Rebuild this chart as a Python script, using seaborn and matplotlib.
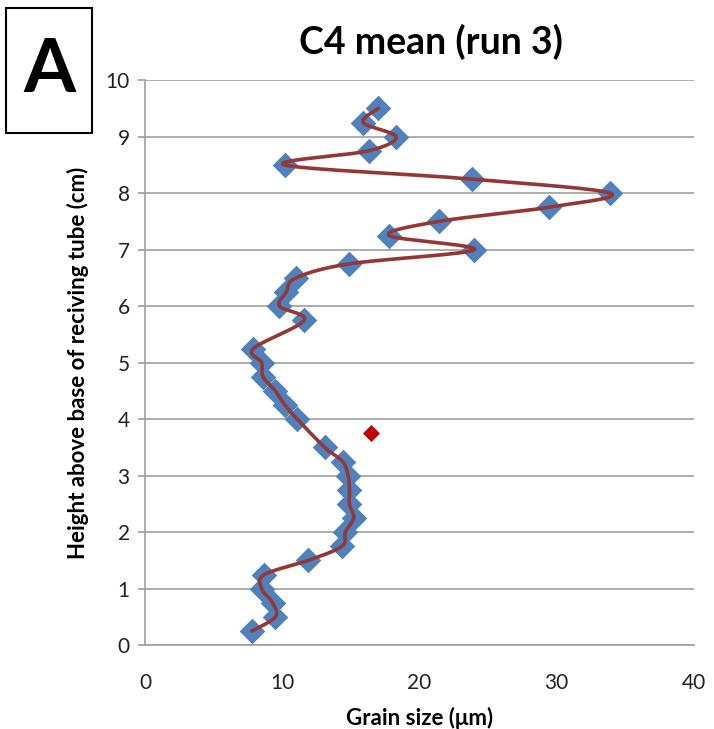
import numpy as np
import pandas as pd
import matplotlib
matplotlib.use("Agg")
import matplotlib.pyplot as plt
from matplotlib.patches import Rectangle
import seaborn as sns

# Data
height_cm = [0.25, 0.5, 0.75, 1.0, 1.25, 1.5, 1.75, 2.0, 2.25, 2.5, 2.75, 3.0, 3.25, 3.5,
             4.0, 4.25, 4.5, 4.75, 5.0, 5.25, 5.75, 6.0, 6.25, 6.5, 6.75, 7.0, 7.25, 7.5,
             7.75, 8.0, 8.25, 8.5, 8.75, 9.0, 9.25, 9.5]
grain_um = [7.8, 9.5, 9.3, 8.5, 8.7, 11.9, 14.35, 14.6, 15.2, 14.9, 14.9, 14.8, 14.4, 13.1,
            11.1, 10.2, 9.5, 8.6, 8.5, 7.9, 11.6, 9.8, 10.3, 11.0, 14.9, 24.0, 17.8, 21.4,
            29.4, 33.9, 23.8, 10.2, 16.3, 18.3, 15.9, 17.0]
outlier_height = [3.75]
outlier_grain = [16.5]

x_ticks = [0, 10, 20, 30, 40]
y_ticks = [0, 1, 2, 3, 4, 5, 6, 7, 8, 9, 10]

df = pd.DataFrame({"grain": grain_um, "height": height_cm})
df_out = pd.DataFrame({"grain": outlier_grain, "height": outlier_height})


def smooth(xs, ys, n=30):
    # Catmull-Rom style smoothing (like a spreadsheet "smoothed line")
    xs = np.asarray(xs, float)
    ys = np.asarray(ys, float)
    px = np.concatenate([[xs[0]], xs, [xs[-1]]])
    py = np.concatenate([[ys[0]], ys, [ys[-1]]])
    outx, outy = [], []
    t = np.linspace(0, 1, n)
    for i in range(1, len(px) - 2):
        p0x, p1x, p2x, p3x = px[i - 1], px[i], px[i + 1], px[i + 2]
        p0y, p1y, p2y, p3y = py[i - 1], py[i], py[i + 1], py[i + 2]
        c1x = p1x + (p2x - p0x) / 6
        c1y = p1y + (p2y - p0y) / 6
        c2x = p2x - (p3x - p1x) / 6
        c2y = p2y - (p3y - p1y) / 6
        bx = (1 - t) ** 3 * p1x + 3 * (1 - t) ** 2 * t * c1x + 3 * (1 - t) * t ** 2 * c2x + t ** 3 * p2x
        by = (1 - t) ** 3 * p1y + 3 * (1 - t) ** 2 * t * c1y + 3 * (1 - t) * t ** 2 * c2y + t ** 3 * p2y
        outx.extend(bx)
        outy.extend(by)
    return np.array(outx), np.array(outy)


sns.set_theme(style="white")
plt.rcParams["font.family"] = ["Lato", "DejaVu Sans"]

fig = plt.figure(figsize=(7.14, 7.29), dpi=100)
ax = fig.add_axes([0.203, 0.115, 0.769, 0.775])

sns.scatterplot(data=df, x="grain", y="height", marker="D", s=170, color="#4F81BD",
                edgecolor="#4F81BD", linewidth=0, ax=ax, zorder=3)
sx, sy = smooth(grain_um, height_cm)
ax.plot(sx, sy, color="#953735", linewidth=2.6, zorder=4, solid_capstyle="round")
sns.scatterplot(data=df_out, x="grain", y="height", marker="D", s=75, color="#C00000",
                edgecolor="#C00000", linewidth=0, ax=ax, zorder=5)

ax.set_xlim(0, 40)
ax.set_ylim(0, 10)
ax.set_xticks(x_ticks)
ax.set_yticks(y_ticks)
ax.set_xticklabels([str(v) for v in x_ticks], fontsize=15, color="#222222")
ax.set_yticklabels([str(v) for v in y_ticks], fontsize=15, color="#222222")
ax.yaxis.grid(True, color="#A0A0A0", linewidth=1.2)
ax.xaxis.grid(False)
for s in ["top", "right"]:
    ax.spines[s].set_visible(False)
for s in ["left", "bottom"]:
    ax.spines[s].set_color("#A0A0A0")
    ax.spines[s].set_linewidth(1.2)
ax.tick_params(axis="y", which="major", left=True, length=5, color="#A0A0A0", pad=6)
ax.tick_params(axis="x", which="major", bottom=False, pad=14)

ax.set_xlabel("Grain size (\u03bcm)", fontsize=16, fontweight="bold", labelpad=10, color="black")
ax.set_ylabel("Height above base of reciving tube (cm)", fontsize=16, fontweight="bold",
              labelpad=12, color="black")

fig.text(0.603, 0.942, "C4 mean (run 3)", fontsize=27, fontweight="bold", ha="center",
         va="center", color="black")
fig.patches.append(Rectangle((0.0084, 0.818), 0.121, 0.171, transform=fig.transFigure,
                             facecolor="white", edgecolor="black", linewidth=1.5, figure=fig))
fig.text(0.0686, 0.903, "A", fontsize=54, fontweight="bold", ha="center", va="center",
         color="black")

fig.savefig("out.png", dpi=100)
